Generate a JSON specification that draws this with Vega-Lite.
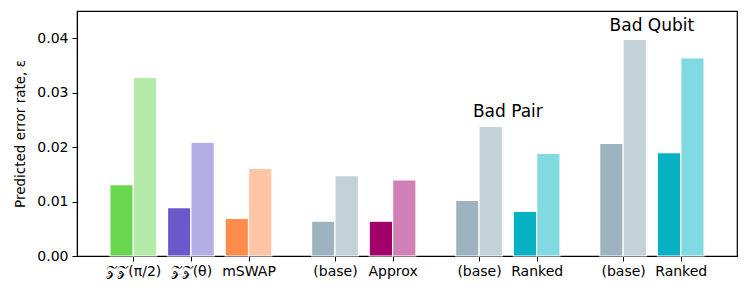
{
  "$schema": "https://vega.github.io/schema/vega-lite/v6.json",
  "width": 660,
  "height": 245,
  "autosize": "none",
  "padding": {"left": 77, "top": 11, "right": 11, "bottom": 36},
  "config": {
    "font": "DejaVu Sans",
    "view": {"stroke": "black", "strokeWidth": 1.2},
    "axis": {"grid": false, "domainColor": "black", "tickColor": "black", "labelColor": "black", "titleColor": "black", "labelFont": "DejaVu Sans", "titleFont": "DejaVu Sans", "zindex": 1}
  },
  "datasets": {
    "bars": [
      {"label": "ZZpi2", "pos": 0, "variant": "dark", "series": "zzpi2-dark", "err": 0.0131},
      {"label": "ZZpi2", "pos": 0, "variant": "light", "series": "zzpi2-light", "err": 0.0328},
      {"label": "ZZtheta", "pos": 1, "variant": "dark", "series": "zztheta-dark", "err": 0.0089},
      {"label": "ZZtheta", "pos": 1, "variant": "light", "series": "zztheta-light", "err": 0.0209},
      {"label": "mSWAP", "pos": 2, "variant": "dark", "series": "mswap-dark", "err": 0.0069},
      {"label": "mSWAP", "pos": 2, "variant": "light", "series": "mswap-light", "err": 0.0161},
      {"label": "(base)", "pos": 3.5, "variant": "dark", "series": "base-dark", "err": 0.0064},
      {"label": "(base)", "pos": 3.5, "variant": "light", "series": "base-light", "err": 0.01475},
      {"label": "Approx", "pos": 4.5, "variant": "dark", "series": "approx-dark", "err": 0.0064},
      {"label": "Approx", "pos": 4.5, "variant": "light", "series": "approx-light", "err": 0.0140},
      {"label": "(base)", "pos": 6, "variant": "dark", "series": "base-dark", "err": 0.0102},
      {"label": "(base)", "pos": 6, "variant": "light", "series": "base-light", "err": 0.0238},
      {"label": "Ranked", "pos": 7, "variant": "dark", "series": "ranked-dark", "err": 0.0082},
      {"label": "Ranked", "pos": 7, "variant": "light", "series": "ranked-light", "err": 0.01885},
      {"label": "(base)", "pos": 8.5, "variant": "dark", "series": "base-dark", "err": 0.0207},
      {"label": "(base)", "pos": 8.5, "variant": "light", "series": "base-light", "err": 0.0398},
      {"label": "Ranked", "pos": 9.5, "variant": "dark", "series": "ranked-dark", "err": 0.0190},
      {"label": "Ranked", "pos": 9.5, "variant": "light", "series": "ranked-light", "err": 0.0364}
    ],
    "notes": [
      {"text": "Bad Pair", "pos": 6.5, "err": 0.0265},
      {"text": "Bad Qubit", "pos": 9.0, "err": 0.0422}
    ]
  },
  "layer": [
    {
      "data": {"name": "bars"},
      "transform": [{"filter": "datum.variant === 'dark'"}],
      "mark": {"type": "bar", "width": 23.4, "xOffset": -11.7, "stroke": "white", "strokeWidth": 1.2},
      "encoding": {
        "x": {"field": "pos", "type": "quantitative", "scale": {"domain": [-0.89, 10.39], "nice": false, "zero": false},
          "axis": {"values": [0, 1, 2, 3.5, 4.5, 6, 7, 8.5, 9.5], "title": null, "labelFontSize": 14, "tickSize": 5, "labelPadding": 3,
            "labelExpr": "['𝒵𝒵(π/2)', '𝒵𝒵(θ)', 'mSWAP', '(base)', 'Approx', '(base)', 'Ranked', '(base)', 'Ranked'][indexof([0, 1, 2, 3.5, 4.5, 6, 7, 8.5, 9.5], datum.value)]"}},
        "y": {"field": "err", "type": "quantitative", "scale": {"domain": [0, 0.045], "nice": false},
          "axis": {"values": [0, 0.01, 0.02, 0.03, 0.04], "format": ".2f", "title": "Predicted error rate, ε", "labelFontSize": 14, "titleFontSize": 13.5, "titleFontWeight": "normal", "tickSize": 5, "labelPadding": 4, "titlePadding": 9}},
        "color": {"field": "series", "type": "nominal", "legend": null,
          "scale": {"domain": ["zzpi2-dark", "zzpi2-light", "zztheta-dark", "zztheta-light", "mswap-dark", "mswap-light", "base-dark", "base-light", "approx-dark", "approx-light", "ranked-dark", "ranked-light"],
            "range": ["#6ad84f", "#b5eba8", "#6b59cb", "#b4ade6", "#ff8c4b", "#ffc5a4", "#9db3bf", "#c3d1d9", "#a1006b", "#d080b4", "#07b1c4", "#81d9e2"]}}
      }
    },
    {
      "data": {"name": "bars"},
      "transform": [{"filter": "datum.variant === 'light'"}],
      "mark": {"type": "bar", "width": 23.4, "xOffset": 11.7, "stroke": "white", "strokeWidth": 1.2},
      "encoding": {
        "x": {"field": "pos", "type": "quantitative"},
        "y": {"field": "err", "type": "quantitative"},
        "color": {"field": "series", "type": "nominal", "legend": null}
      }
    },
    {
      "data": {"name": "notes"},
      "mark": {"type": "text", "fontSize": 17, "font": "DejaVu Sans", "color": "black", "align": "center", "baseline": "middle"},
      "encoding": {
        "x": {"field": "pos", "type": "quantitative"},
        "y": {"field": "err", "type": "quantitative"},
        "text": {"field": "text"}
      }
    }
  ]
}
